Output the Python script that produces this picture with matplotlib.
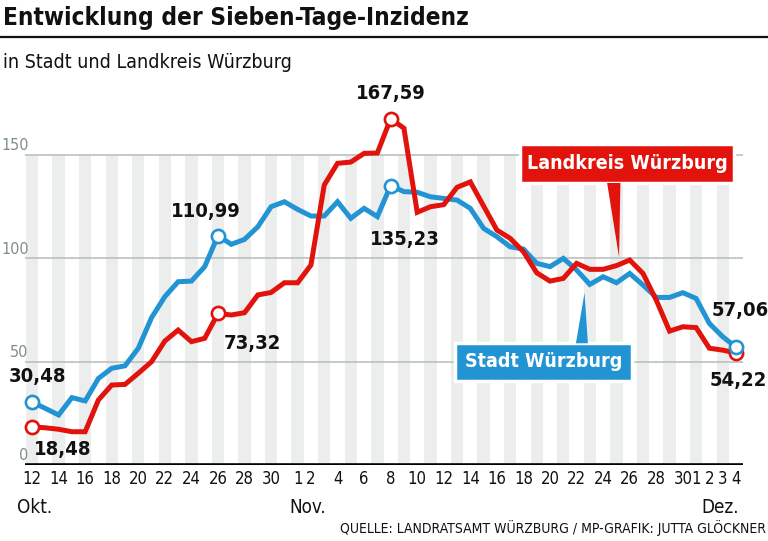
import matplotlib
matplotlib.use("Agg")
import matplotlib.pyplot as plt
from matplotlib import font_manager as fm
from matplotlib.patches import Rectangle, Polygon

# --- data -------------------------------------------------------------
# one value per day, 12. Okt. .. 4. Dez.
day_labels = (["12", "", "14", "", "16", "", "18", "", "20", "", "22", "", "24", "",
               "26", "", "28", "", "30", ""]
              + ["1", "2", "", "4", "", "6", "", "8", "", "10", "", "12", "", "14", "",
                 "16", "", "18", "", "20", "", "22", "", "24", "", "26", "", "28", "", "30"]
              + ["1", "2", "3", "4"])

landkreis = [18.48, 18.0, 17.3, 16.1, 16.1, 31.5, 38.7, 39.0, 44.4, 50.0,
             60.0, 65.3, 59.7, 61.3, 73.32, 72.6, 73.7, 82.3, 83.5, 88.2,
             88.2, 96.8, 135.5, 146.0, 146.6, 150.8, 151.0, 167.59, 163.0, 122.3,
             125.0, 126.0, 134.4, 137.0, 125.3, 113.7, 109.7, 103.2, 93.0, 89.0,
             90.3, 97.6, 94.7, 94.7, 96.5, 99.2, 92.7, 79.8, 64.8, 66.9,
             66.5, 56.5, 55.6, 54.22]

stadt = [30.48, 27.4, 24.2, 32.6, 31.0, 41.9, 46.8, 48.0, 56.5, 71.3,
         81.5, 88.7, 89.0, 96.0, 110.99, 106.8, 109.2, 115.3, 125.0, 127.4,
         123.7, 120.5, 120.5, 127.4, 119.4, 124.2, 120.2, 135.23, 132.3, 132.0,
         129.8, 129.0, 128.2, 124.2, 114.5, 110.5, 105.6, 104.5, 97.6, 96.0,
         100.0, 94.4, 87.4, 91.1, 88.2, 92.7, 87.1, 81.1, 81.1, 83.4,
         80.6, 68.5, 62.1, 57.06]

months = ["Okt.", "Nov.", "Dez."]
y_ticks = [0, 50, 100, 150]

RED = "#e2130d"
BLUE = "#2394d3"
STRIPE = "#ebeeed"
GRID = "#b9c1c0"

# condensed font if there is one
names = {f.name for f in fm.fontManager.ttflist}
if "Liberation Sans Narrow" in names:
    FONT, STRETCH = "Liberation Sans Narrow", "normal"
else:
    FONT, STRETCH = "DejaVu Sans", "condensed"
plt.rcParams["font.family"] = [FONT, "DejaVu Sans"]
plt.rcParams["font.stretch"] = STRETCH

fig = plt.figure(figsize=(7.68, 5.41), dpi=100)
ax = fig.add_axes([25.4 / 768, 76 / 541, 717.2 / 768, 361.6 / 541])
ax.set_xlim(-0.5, 53.5)
ax.set_ylim(0, 175)
ax.axis("off")

idx = list(range(len(day_labels)))

# background stripes and grid
ax.bar(idx[::2], [150] * len(idx[::2]), width=0.93, color=STRIPE, zorder=0)
for v in y_ticks[1:]:
    ax.axhline(v, color=GRID, lw=1.2, zorder=1)
for v in y_ticks:
    ax.text(-0.25, v + 0.8, str(v), ha="right", va="bottom", fontsize=11.5, color="#7f8d8d")
ax.axhline(0, color="black", lw=2.6, zorder=5)

# lines
ax.plot(idx, stadt, color=BLUE, lw=3.6, zorder=3, solid_joinstyle="miter")
ax.plot(idx, landkreis, color=RED, lw=3.6, zorder=4, solid_joinstyle="miter")

# highlighted points with value labels (label position in data units)
marks = [
    (landkreis, RED, 0, (2.33, 7.3)),
    (landkreis, RED, 14, (16.6, 59.0)),
    (landkreis, RED, 27, (27.0, 180.0)),
    (landkreis, RED, 53, (53.2, 41.1)),
    (stadt, BLUE, 0, (0.4, 42.6)),
    (stadt, BLUE, 14, (13.1, 122.5)),
    (stadt, BLUE, 27, (28.1, 108.9)),
    (stadt, BLUE, 53, (53.3, 75.0)),
]
for series, col, i, (tx, ty) in marks:
    ax.plot(i, series[i], "o", ms=9.5, mfc="white", mec=col, mew=1.9, zorder=6, clip_on=False)
    ax.text(tx, ty, f"{series[i]:.2f}".replace(".", ","), ha="center", va="center",
            fontsize=14.5, fontweight="bold", color="#111111")

# x labels
for i, lab in zip(idx, day_labels):
    if lab:
        ax.text(i, -6.6, lab, ha="center", va="center", fontsize=12, color="#111111")
ax.text(-1.15, -20.5, months[0], ha="left", va="center", fontsize=13.5, color="#111111")
ax.text(19.4, -20.5, months[1], ha="left", va="center", fontsize=13.5, color="#111111")
ax.text(53.2, -20.5, months[2], ha="right", va="center", fontsize=13.5, color="#111111")

# label boxes with pointers
ax.add_patch(Rectangle((36.75, 136.3), 16.1, 19.0, facecolor=RED, edgecolor="white",
                       lw=2.5, zorder=7))
ax.add_patch(Polygon([(43.3, 136.5), (44.3, 136.5), (44.2, landkreis[44] + 4)],
                     closed=True, facecolor=RED, edgecolor="none", zorder=7))
ax.text(44.8, 145.8, "Landkreis Würzburg", ha="center", va="center", fontsize=14,
        fontweight="bold", color="white", zorder=8)

ax.add_patch(Rectangle((31.85, 40.7), 13.3, 18.4, facecolor=BLUE, edgecolor="white",
                       lw=2.5, zorder=7))
ax.add_patch(Polygon([(40.95, 58.9), (41.85, 58.9), (41.6, stadt[42] - 4)],
                     closed=True, facecolor=BLUE, edgecolor="none", zorder=7))
ax.text(38.5, 49.9, "Stadt Würzburg", ha="center", va="center", fontsize=14,
        fontweight="bold", color="white", zorder=8)

# header and footer
fig.text(3 / 768, 1 - 18 / 541, "Entwicklung der Sieben-Tage-Inzidenz", ha="left",
         va="center", fontsize=17.5, fontweight="bold", color="#111111")
fig.add_artist(plt.Line2D([0, 1], [1 - 37 / 541, 1 - 37 / 541], color="#111111", lw=1.6))
fig.text(3 / 768, 1 - 62 / 541, "in Stadt und Landkreis Würzburg", ha="left",
         va="center", fontsize=14, color="#111111")
fig.text(766 / 768, 1 - 528 / 541, "QUELLE: LANDRATSAMT WÜRZBURG / MP-GRAFIK: JUTTA GLÖCKNER",
         ha="right", va="center", fontsize=10, color="#111111")

fig.savefig("out.png", dpi=100)
